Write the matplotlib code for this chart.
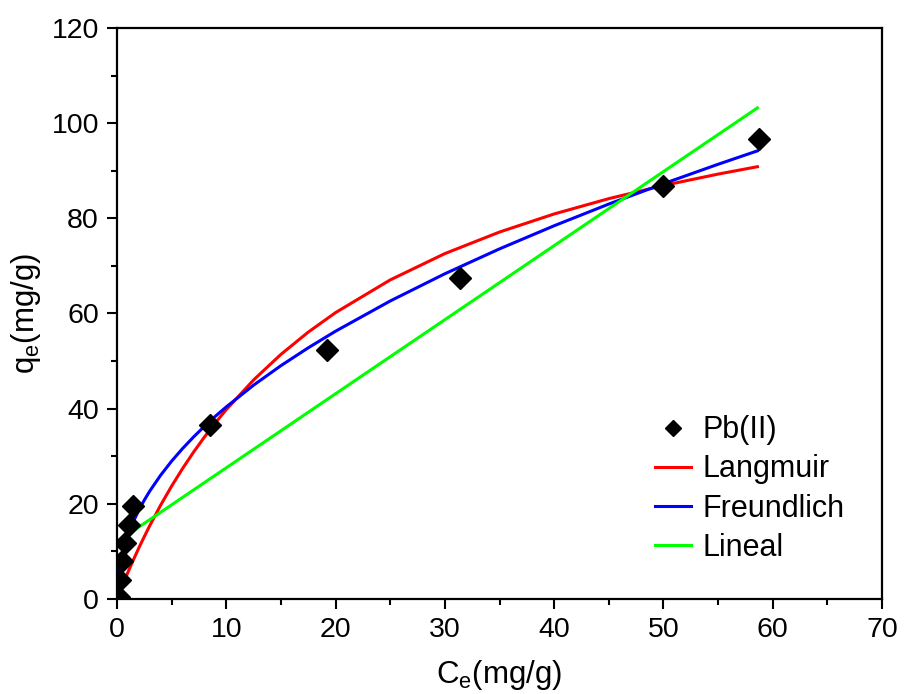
import numpy as np
import matplotlib
matplotlib.use('Agg')
import matplotlib.pyplot as plt
from matplotlib.ticker import MultipleLocator

plt.rcParams['font.family'] = ['Liberation Sans', 'DejaVu Sans']
plt.rcParams['mathtext.fontset'] = 'custom'
plt.rcParams['mathtext.rm'] = 'Liberation Sans'
plt.rcParams['mathtext.it'] = 'Liberation Sans:italic'

# experimental points, Pb(II)
ce = [0.15, 0.3, 0.45, 0.76, 1.06, 1.46, 8.54, 19.24, 31.4, 49.98, 58.7]
qe = [0.5, 4.05, 7.9, 11.8, 15.6, 19.45, 36.6, 52.4, 67.5, 86.8, 96.7]

# fitted curves
x_fit = [0, 0.05, 0.1, 0.2, 0.3, 0.5, 0.75, 1, 1.5, 2, 2.5, 3, 4, 5, 6, 7, 8, 9, 10,
         12.5, 15, 17.5, 20, 25, 30, 35, 40, 45, 50, 55, 58.6]
q_langmuir = [0, 0.29, 0.58, 1.16, 1.74, 2.87, 4.25, 5.61, 8.22, 10.73, 13.12, 15.42,
              19.74, 23.72, 27.41, 30.84, 34.03, 37.01, 39.80, 46.03, 51.40, 56.08,
              60.18, 67.05, 72.58, 77.11, 80.91, 84.13, 86.89, 89.29, 90.84]
q_freundlich = [0, 3.19, 4.45, 6.20, 7.53, 9.61, 11.68, 13.4, 16.27, 18.68, 20.78, 22.68,
                26.03, 28.97, 31.61, 34.03, 36.28, 38.39, 40.37, 44.93, 49.03, 52.78,
                56.27, 62.62, 68.34, 73.57, 78.43, 82.99, 87.27, 91.35, 94.17]
x_lin = [0, 58.6]
q_lin = [12.0, 103.2]

fig = plt.figure(figsize=(9.05, 6.94), dpi=100)
ax = fig.add_axes([0.1293, 0.137, 0.8453, 0.8227])

ax.plot(ce, qe, 'D', color='black', markersize=11, label='Pb(II)', zorder=3)
ax.plot(x_fit, q_langmuir, color='#ff0000', lw=2.2, label='Langmuir')
ax.plot(x_fit, q_freundlich, color='#0000ff', lw=2.2, label='Freundlich')
ax.plot(x_lin, q_lin, color='#00ff00', lw=2.2, label='Lineal')

ax.set_xlim(0, 70)
ax.set_ylim(0, 120)
ax.xaxis.set_major_locator(MultipleLocator(10))
ax.xaxis.set_minor_locator(MultipleLocator(5))
ax.yaxis.set_major_locator(MultipleLocator(20))
ax.yaxis.set_minor_locator(MultipleLocator(10))
ax.tick_params(which='major', direction='out', length=7, width=1.5, labelsize=20.5, pad=6)
ax.tick_params(which='minor', direction='out', length=4, width=1.5)
for s in ax.spines.values():
    s.set_linewidth(1.6)

ax.set_xlabel(r'C$_\mathrm{e}$(mg/g)', fontsize=22.5, labelpad=11)
ax.set_ylabel(r'q$_\mathrm{e}$(mg/g)', fontsize=22.5, labelpad=6)

leg = ax.legend(loc='upper left', bbox_to_anchor=(0.687, 0.343), frameon=False, fontsize=22,
                handlelength=1.2, handletextpad=0.35, labelspacing=0.3, markerscale=0.7,
                borderaxespad=0)

fig.savefig('out.png', dpi=100)
